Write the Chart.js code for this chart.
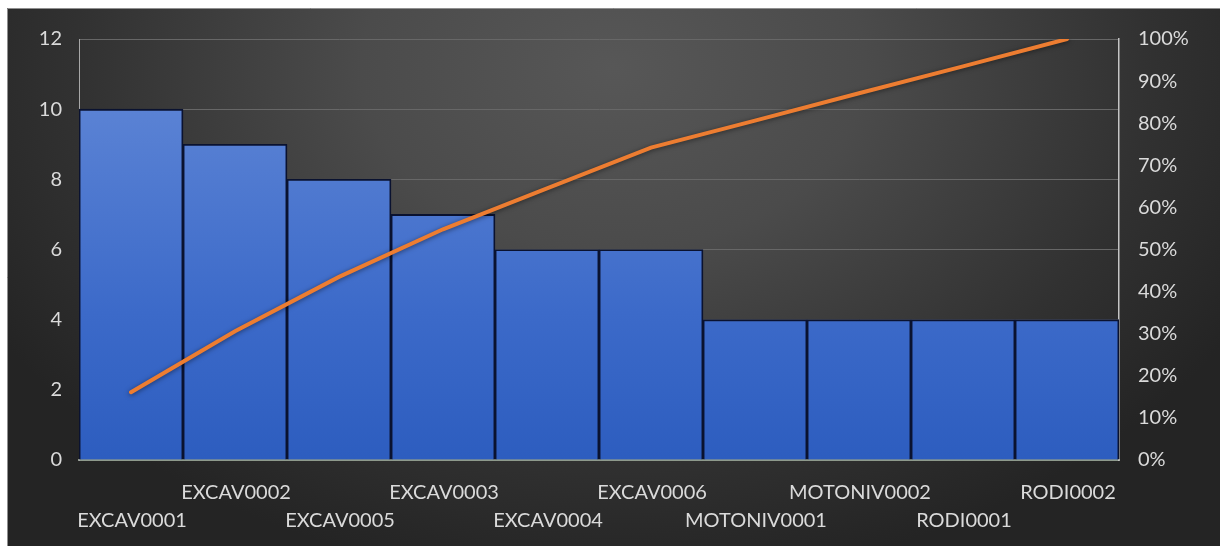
<!DOCTYPE html>
<html>
<head>
<meta charset="utf-8">
<script src="https://cdn.jsdelivr.net/npm/chart.js@4/dist/chart.umd.min.js"></script>
<style>
  html, body { margin: 0; padding: 0; background: #ffffff; }
  #wrap { position: absolute; left: 7px; top: 8px; width: 1213px; height: 538px; }
  canvas { display: block; }
</style>
</head>
<body>
<div id="wrap"><canvas id="pareto" width="1213" height="538"></canvas></div>
<script>
// Equipment ranked by number of occurrences
const categories = ['EXCAV0001', 'EXCAV0002', 'EXCAV0005', 'EXCAV0003', 'EXCAV0004',
                    'EXCAV0006', 'MOTONIV0001', 'MOTONIV0002', 'RODI0001', 'RODI0002'];
const counts = [10, 9, 8, 7, 6, 6, 4, 4, 4, 4];
// Cumulative share of the total, in percent
const cumulativePct = [16.1, 30.6, 43.5, 54.8, 64.5, 74.2, 80.6, 87.1, 93.5, 100];
const countAxis = { min: 0, max: 12, step: 2 };
const pctAxis = { min: 0, max: 100, step: 10 };

const FONT = { family: 'Lato, "Open Sans", sans-serif', size: 20 };
const TEXT = '#dadada';

// Dark radial backdrop, brighter near the top centre
const backdrop = {
  id: 'backdrop',
  beforeDraw(chart) {
    const { ctx, width, height } = chart;
    const cx = width * 0.5, cy = 60, sy = 0.72, r = 720;
    ctx.save();
    ctx.translate(cx, cy);
    ctx.scale(1, sy);
    const g = ctx.createRadialGradient(0, 0, 0, 0, 0, r);
    g.addColorStop(0, '#575757');
    g.addColorStop(0.35, '#4b4b4b');
    g.addColorStop(0.75, '#313131');
    g.addColorStop(1, '#242424');
    ctx.fillStyle = g;
    ctx.fillRect(-cx, -cy / sy, width, height / sy + 10);
    ctx.restore();
    ctx.save();
    ctx.strokeStyle = '#8f8f8f';
    ctx.lineWidth = 1;
    ctx.beginPath();
    ctx.moveTo(0.5, height);
    ctx.lineTo(0.5, 0.5);
    ctx.lineTo(width, 0.5);
    ctx.stroke();
    ctx.restore();
  }
};

// Soft shadow under the cumulative line
const lineShadow = {
  id: 'lineShadow',
  beforeDatasetDraw(chart, args) {
    if (args.meta.type !== 'line') return;
    const ctx = chart.ctx;
    ctx.save();
    ctx.shadowColor = 'rgba(0,0,0,0.5)';
    ctx.shadowBlur = 5;
    ctx.shadowOffsetY = 1;
  },
  afterDatasetDraw(chart, args) {
    if (args.meta.type !== 'line') return;
    chart.ctx.restore();
  }
};

function barFill(context) {
  const area = context.chart.chartArea;
  if (!area) return '#3d6bc9';
  const g = context.chart.ctx.createLinearGradient(0, area.top, 0, area.bottom);
  g.addColorStop(0, '#6189d8');
  g.addColorStop(0.17, '#5a82d4');
  g.addColorStop(0.65, '#3c6ac9');
  g.addColorStop(1, '#2d5dbf');
  return g;
}

new Chart(document.getElementById('pareto'), {
  data: {
    labels: categories,
    datasets: [
      {
        type: 'line',
        data: cumulativePct,
        yAxisID: 'y1',
        borderColor: '#ed7d31',
        borderWidth: 4,
        pointRadius: 0,
        tension: 0,
        borderCapStyle: 'round',
        order: 0
      },
      {
        type: 'bar',
        data: counts,
        yAxisID: 'y',
        backgroundColor: barFill,
        borderColor: '#0a1230',
        borderWidth: 1.8,
        barPercentage: 1,
        categoryPercentage: 1,
        order: 1
      }
    ]
  },
  options: {
    responsive: false,
    animation: false,
    layout: { padding: { top: 30, left: 0, right: 0, bottom: 0 } },
    plugins: { legend: { display: false }, tooltip: { enabled: false } },
    scales: {
      x: {
        type: 'category',
        offset: true,
        grid: { display: false, drawTicks: false },
        border: { display: true, color: '#8e9a8c', width: 2 },
        ticks: {
          color: TEXT,
          font: { ...FONT, lineHeight: 1.43 },
          padding: 18,
          labelOffset: 1,
          autoSkip: false,
          maxRotation: 0,
          minRotation: 0,
          callback(value, index) {
            const name = categories[index];
            return index % 2 === 0 ? ['', name] : [name, ''];
          }
        },
        afterFit(scale) { scale.height = 86; }
      },
      y: {
        position: 'left',
        min: countAxis.min,
        max: countAxis.max,
        grid: { color: '#676767', lineWidth: 1, drawTicks: false },
        border: { display: true, color: '#a8a8a8', width: 1 },
        ticks: { stepSize: countAxis.step, color: TEXT, font: FONT, padding: 17 },
        afterFit(scale) { scale.width = 72; }
      },
      y1: {
        position: 'right',
        min: pctAxis.min,
        max: pctAxis.max,
        grid: { drawOnChartArea: false, drawTicks: false },
        border: { display: true, color: '#c4c4c4', width: 1.5 },
        ticks: {
          stepSize: pctAxis.step,
          color: TEXT,
          font: FONT,
          padding: 19,
          callback: v => v + '%'
        },
        afterFit(scale) { scale.width = 101; }
      }
    }
  },
  plugins: [backdrop, lineShadow]
});
</script>
</body>
</html>
